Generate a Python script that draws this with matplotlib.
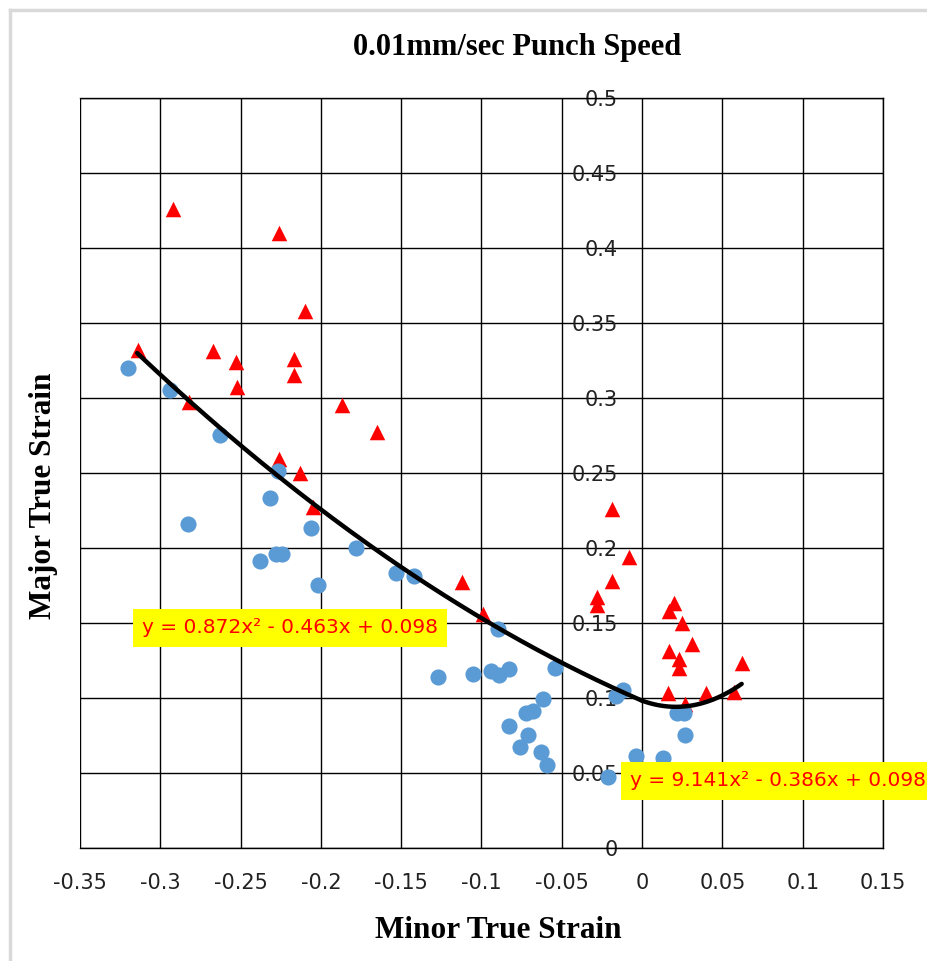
import numpy as np
import matplotlib.pyplot as plt
from matplotlib.lines import Line2D

# blue circles (minor strain, major strain)
blue_x = [-0.320, -0.294, -0.283, -0.263, -0.238, -0.232, -0.227, -0.228, -0.224, -0.206,
          -0.202, -0.178, -0.153, -0.142, -0.127, -0.105, -0.094, -0.090, -0.089, -0.083,
          -0.083, -0.076, -0.072, -0.071, -0.068, -0.063, -0.062, -0.059, -0.054, -0.021,
          -0.016, -0.012, -0.004, 0.013, 0.022, 0.026, 0.027]
blue_y = [0.320, 0.305, 0.216, 0.275, 0.191, 0.233, 0.251, 0.196, 0.196, 0.213,
          0.175, 0.200, 0.183, 0.181, 0.114, 0.116, 0.118, 0.146, 0.115, 0.119,
          0.081, 0.067, 0.090, 0.075, 0.091, 0.064, 0.099, 0.055, 0.120, 0.047,
          0.101, 0.105, 0.061, 0.060, 0.090, 0.090, 0.075]

# red triangles
red_x = [-0.314, -0.292, -0.282, -0.267, -0.253, -0.252, -0.226, -0.226, -0.217, -0.217,
         -0.213, -0.210, -0.205, -0.187, -0.165, -0.112, -0.099, -0.028, -0.028, -0.019,
         -0.019, -0.008, 0.017, 0.020, 0.025, 0.031, 0.017, 0.023, 0.023, 0.062,
         0.016, 0.040, 0.057, 0.027]
red_y = [0.332, 0.426, 0.297, 0.331, 0.324, 0.307, 0.410, 0.259, 0.326, 0.315,
         0.250, 0.358, 0.227, 0.295, 0.277, 0.177, 0.156, 0.167, 0.162, 0.226,
         0.178, 0.194, 0.158, 0.163, 0.150, 0.136, 0.131, 0.126, 0.120, 0.123,
         0.103, 0.103, 0.104, 0.096]

# trendlines as shown on the chart
fit_left = [0.872, -0.463, 0.098]
fit_right = [9.141, -0.386, 0.098]
left_range = [-0.3144, 0.0]
right_range = [0.0, 0.062]
eq_left = "y = 0.872x\u00b2 - 0.463x + 0.098"
eq_right = "y = 9.141x\u00b2 - 0.386x + 0.098"

xticks = [-0.35, -0.3, -0.25, -0.2, -0.15, -0.1, -0.05, 0, 0.05, 0.1, 0.15]
xlabels = ['-0.35', '-0.3', '-0.25', '-0.2', '-0.15', '-0.1', '-0.05', '0', '0.05', '0.1', '0.15']
yticks = [0, 0.05, 0.1, 0.15, 0.2, 0.25, 0.3, 0.35, 0.4, 0.45, 0.5]
ylabels = ['0', '0.05', '0.1', '0.15', '0.2', '0.25', '0.3', '0.35', '0.4', '0.45', '0.5']

W, H = 927, 961
fig = plt.figure(figsize=(W / 100, H / 100), dpi=100)
ax = fig.add_axes([80 / W, (H - 847.7) / H, 803 / W, 750 / H])

ax.scatter(red_x, red_y, marker='^', s=125, color='#FF0000', linewidths=0, zorder=3)
ax.scatter(blue_x, blue_y, marker='o', s=135, color='#5B9BD5', linewidths=0, zorder=4)

xl = np.linspace(left_range[0], left_range[1], 200)
xr = np.linspace(right_range[0], right_range[1], 100)
ax.plot(xl, np.polyval(fit_left, xl), color='black', lw=3.2, zorder=5, solid_capstyle='round')
ax.plot(xr, np.polyval(fit_right, xr), color='black', lw=3.2, zorder=5, solid_capstyle='round')

ax.set_xlim(-0.35, 0.15)
ax.set_ylim(0, 0.5)
ax.set_xticks(xticks)
ax.set_xticklabels(xlabels)
ax.set_yticks(yticks)
ax.set_yticklabels(ylabels)
ax.grid(True, color='black', lw=1.0)
ax.set_axisbelow(True)

ax.spines['left'].set_position(('data', 0))
ax.spines['left'].set_visible(False)
for s in ['top', 'right', 'bottom']:
    ax.spines[s].set_color('black')
    ax.spines[s].set_linewidth(1.0)
ax.tick_params(axis='y', length=0, pad=17.5, labelsize=15, labelcolor='#222222')
ax.tick_params(axis='x', length=0, pad=18, labelsize=15, labelcolor='#222222')

box = dict(boxstyle='square,pad=0.45', facecolor='#FFFF00', edgecolor='none')
ax.text(-0.3115, 0.1465, eq_left, color='#FF0000', fontsize=14.5, va='center', ha='left',
        bbox=box, zorder=6)
ax.text(-0.0075, 0.0445, eq_right, color='#FF0000', fontsize=14.5, va='center', ha='left',
        bbox=box, zorder=6, clip_on=False)

fig.text(517 / W, 1 - 48 / H, '0.01mm/sec Punch Speed', family='Liberation Serif',
         weight='bold', fontsize=22, ha='center', va='center')
fig.text(498 / W, 1 - 930 / H, 'Minor True Strain', family='Liberation Serif',
         weight='bold', fontsize=22.5, ha='center', va='center')
fig.text(43.5 / W, 1 - 496 / H, 'Major True Strain', family='Liberation Serif',
         weight='bold', fontsize=22.5, ha='center', va='center', rotation=90)

# light grey chart-area border (left and top)
fig.add_artist(Line2D([9.5 / W, 9.5 / W], [0, 1 - 9.5 / H], color='#D9D9D9', lw=2.5))
fig.add_artist(Line2D([9.5 / W, 1], [1 - 9.5 / H, 1 - 9.5 / H], color='#D9D9D9', lw=2.5))

fig.savefig('out.png', dpi=100)
